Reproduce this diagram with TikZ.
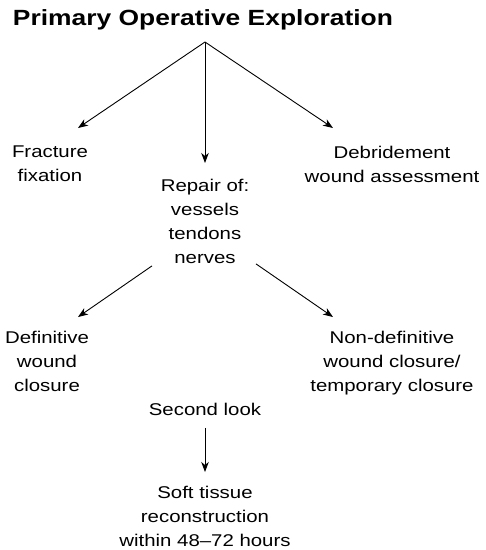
\documentclass[tikz,border=0pt]{standalone}
\usepackage{fontspec}
\setmainfont{Liberation Sans}[FakeStretch=1.2]
\usetikzlibrary{arrows.meta}
\begin{document}
\begin{tikzpicture}[x=1pt,y=-1pt,
  lbl/.style={align=center,inner sep=0pt,anchor=north,
    font=\fontsize{17}{24}\selectfont},
  ttl/.style={inner sep=0pt,anchor=base,
    font=\bfseries\fontsize{22}{26}\selectfont},
  arr/.style={line width=0.9pt,-{Stealth[length=10pt,width=7.5pt,inset=3pt]}}]
\useasboundingbox (0,0) rectangle (486,550);

% title and first-level steps
\node[ttl] (title) at (203,25) {Primary Operative Exploration};
\node[lbl] (frac) at (50,146) {Fracture\\fixation};
\node[lbl] (repair) at (205,179) {Repair of:\\vessels\\tendons\\nerves};
\node[lbl] (debr) at (392,146) {Debridement\\wound assessment};

% closure options
\node[lbl] (defin) at (47,331) {Definitive\\wound\\closure};
\node[lbl] (nondef) at (392,331) {Non-definitive\\wound closure/\\temporary closure};
\node[lbl] (second) at (205,403) {Second look};
\node[lbl] (soft) at (205,486) {Soft tissue\\reconstruction\\within 48--72 hours};

% branching point under the title
\coordinate (split) at ([xshift=2pt,yshift=-17pt]title.base);

\draw[arr] (split) -- ([xshift=28pt,yshift=18pt]frac.north);
\draw[arr] (split) -- ([yshift=16pt]repair.north);
\draw[arr] (split) -- ([xshift=-59pt,yshift=18pt]debr.north);

\draw[arr] ([xshift=-53pt,yshift=-2pt]repair.south) -- ([xshift=31pt,yshift=14pt]defin.north);
\draw[arr] ([xshift=51pt]repair.south) -- ([xshift=-59pt,yshift=14pt]nondef.north);

\draw[arr] ([yshift=-12pt]second.south) -- ([yshift=14pt]soft.north);
\end{tikzpicture}
\end{document}
